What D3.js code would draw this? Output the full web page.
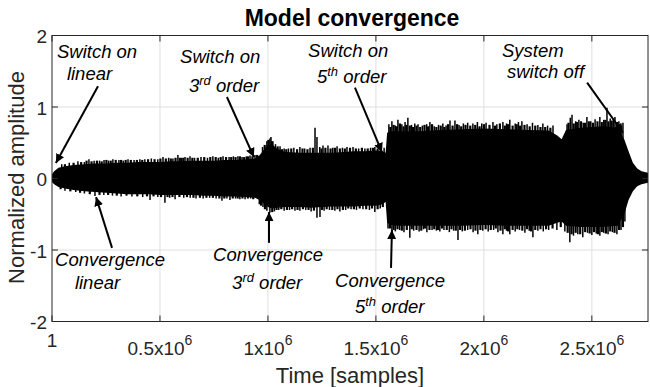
<!DOCTYPE html>
<html><head><meta charset="utf-8">
<script src="https://cdn.jsdelivr.net/npm/d3@7"></script>
<style>
html,body{margin:0;padding:0;background:#fff;}
svg{display:block;font-family:"Liberation Sans",Arial,sans-serif;}
</style></head>
<body><svg id="c" width="650" height="387"></svg>
<script>
// ---- data (samples, amplitude) ----
const xTicks = [1, 500000, 1000000, 1500000, 2000000, 2500000];
const xTickMant = ["1", "0.5x10", "1x10", "1.5x10", "2x10", "2.5x10"];
const xTickExp = ["", "6", "6", "6", "6", "6"];
const yTicks = [-2, -1, 0, 1, 2];

// base envelope of the waveform
const envSample = [0,10e3,30e3,60e3,100e3,150e3,200e3,250e3,300e3,350e3,400e3,450e3,500e3,550e3,600e3,650e3,700e3,750e3,800e3,850e3,900e3,940e3,960e3,980e3,1000e3,1020e3,1040e3,1080e3,1150e3,1200e3,1250e3,1300e3,1350e3,1400e3,1450e3,1500e3,1530e3,1545e3,1552e3,1570e3,1600e3,1700e3,1800e3,1900e3,2000e3,2100e3,2200e3,2300e3,2340e3,2360e3,2380e3,2450e3,2550e3,2620e3,2650e3,2670e3,2690e3,2710e3,2730e3,2760e3];
const envUpper = [0.06,0.10,0.15,0.17,0.19,0.20,0.21,0.21,0.22,0.22,0.23,0.23,0.23,0.24,0.24,0.25,0.25,0.25,0.26,0.26,0.27,0.28,0.32,0.40,0.47,0.48,0.42,0.37,0.36,0.36,0.36,0.36,0.37,0.38,0.38,0.39,0.38,0.36,0.64,0.66,0.66,0.66,0.68,0.69,0.70,0.69,0.68,0.67,0.60,0.55,0.68,0.71,0.73,0.71,0.55,0.38,0.22,0.14,0.10,0.08];
const envLower = [-0.05,-0.08,-0.12,-0.14,-0.16,-0.18,-0.19,-0.20,-0.21,-0.22,-0.22,-0.22,-0.23,-0.23,-0.23,-0.23,-0.24,-0.24,-0.25,-0.25,-0.26,-0.27,-0.30,-0.35,-0.40,-0.42,-0.41,-0.40,-0.40,-0.41,-0.40,-0.39,-0.39,-0.39,-0.38,-0.38,-0.36,-0.33,-0.62,-0.65,-0.66,-0.66,-0.66,-0.66,-0.65,-0.66,-0.66,-0.66,-0.62,-0.60,-0.66,-0.68,-0.68,-0.66,-0.50,-0.30,-0.18,-0.11,-0.08,-0.06];

// tall peaks sticking out of the envelope
const upSpikeSample = [45e3,80e3,120e3,150e3,171e3,195e3,220e3,241e3,262e3,282e3,310e3,330e3,352e3,380e3,407e3,430e3,460e3,490e3,514e3,540e3,560e3,583e3,600e3,616e3,639e3,660e3,690e3,720e3,745e3,770e3,792e3,820e3,840e3,861e3,880e3,900e3,917e3,940e3,
 975e3,995e3,1009e3,1014e3,1023e3,1035e3,1056e3,1075e3,1095e3,1120e3,1148e3,1170e3,1195e3,1218e3,1227e3,1240e3,1255e3,1278e3,1300e3,1320e3,1345e3,1366e3,1394e3,1420e3,1449e3,1475e3,1495e3,1520e3,1538e3,
 1560e3,1574e3,1590e3,1602e3,1620e3,1635e3,1648e3,1665e3,1680e3,1695e3,1715e3,1735e3,1750e3,1770e3,1790e3,1810e3,1825e3,1843e3,1866e3,1885e3,1905e3,1925e3,1949e3,1970e3,1990e3,2010e3,2042e3,2060e3,2088e3,2105e3,2120e3,2145e3,2160e3,2176e3,2200e3,2225e3,2250e3,2273e3,2295e3,2320e3,2385e3,2400e3,2408e3,2425e3,2440e3,2460e3,2477e3,2495e3,2515e3,2537e3,2555e3,2570e3,2585e3,2600e3,2607e3,2625e3,2644e3];
const upSpikeValue = [0.20,0.22,0.24,0.23,0.27,0.25,0.25,0.26,0.25,0.27,0.26,0.25,0.27,0.26,0.27,0.27,0.28,0.27,0.30,0.29,0.28,0.33,0.29,0.30,0.31,0.29,0.30,0.29,0.31,0.29,0.31,0.30,0.31,0.31,0.30,0.31,0.32,0.33,
 0.44,0.52,0.56,0.58,0.52,0.48,0.45,0.42,0.42,0.43,0.44,0.42,0.43,0.71,0.58,0.44,0.46,0.46,0.43,0.45,0.43,0.44,0.44,0.42,0.42,0.43,0.44,0.41,0.43,
 0.76,0.80,0.74,0.82,0.76,0.79,0.85,0.75,0.77,0.76,0.74,0.76,0.79,0.73,0.75,0.77,0.74,0.81,0.81,0.75,0.77,0.78,0.77,0.79,0.77,0.78,0.79,0.76,0.79,0.77,0.82,0.77,0.79,0.80,0.76,0.78,0.75,0.77,0.74,0.74,0.76,0.85,0.89,0.80,0.82,0.78,0.86,0.80,0.83,0.86,0.82,0.99,0.84,0.83,0.86,0.80,0.78];
const loSpikeSample = [60e3,110e3,150e3,199e3,240e3,280e3,320e3,370e3,420e3,454e3,490e3,523e3,545e3,570e3,610e3,640e3,667e3,700e3,730e3,760e3,787e3,810e3,824e3,850e3,870e3,894e3,920e3,
 960e3,977e3,995e3,1009e3,1030e3,1050e3,1075e3,1100e3,1125e3,1148e3,1175e3,1200e3,1227e3,1241e3,1260e3,1285e3,1310e3,1333e3,1360e3,1385e3,1410e3,1440e3,1470e3,1495e3,1520e3,
 1556e3,1574e3,1590e3,1610e3,1630e3,1657e3,1675e3,1700e3,1720e3,1736e3,1760e3,1780e3,1796e3,1815e3,1840e3,1860e3,1880e3,1900e3,1925e3,1950e3,1972e3,1995e3,2020e3,2045e3,2065e3,2088e3,2105e3,2120e3,2145e3,2165e3,2190e3,2210e3,2227e3,2250e3,2275e3,2300e3,2338e3,2375e3,2398e3,2415e3,2435e3,2458e3,2480e3,2500e3,2520e3,2537e3,2555e3,2575e3,2595e3,2616e3,2635e3,2653e3];
const loSpikeValue = [-0.17,-0.19,-0.21,-0.245,-0.23,-0.24,-0.25,-0.25,-0.26,-0.30,-0.26,-0.34,-0.27,-0.29,-0.27,-0.27,-0.28,-0.28,-0.27,-0.28,-0.31,-0.28,-0.30,-0.28,-0.29,-0.29,-0.28,
 -0.36,-0.40,-0.45,-0.48,-0.46,-0.44,-0.45,-0.44,-0.45,-0.45,-0.44,-0.46,-0.55,-0.54,-0.45,-0.44,-0.45,-0.46,-0.44,-0.43,-0.44,-0.43,-0.44,-0.47,-0.42,
 -0.70,-0.82,-0.74,-0.72,-0.75,-0.83,-0.73,-0.74,-0.71,-0.75,-0.72,-0.73,-0.74,-0.72,-0.75,-0.73,-0.86,-0.74,-0.72,-0.75,-0.78,-0.73,-0.74,-0.72,-0.75,-0.78,-0.73,-0.78,-0.74,-0.72,-0.76,-0.73,-0.82,-0.73,-0.74,-0.72,-0.72,-0.74,-0.89,-0.80,-0.78,-0.82,-0.76,-0.79,-0.77,-0.80,-0.76,-0.78,-0.75,-0.78,-0.72,-0.60];

// short ragged peaks ("grass") along the envelope edge
const upGrassSample = [60e3,100e3,135e3,160e3,183e3,208e3,230e3,252e3,272e3,295e3,320e3,341e3,365e3,393e3,418e3,445e3,475e3,502e3,527e3,550e3,572e3,592e3,608e3,628e3,650e3,675e3,705e3,733e3,758e3,781e3,806e3,830e3,850e3,870e3,890e3,908e3,928e3,950e3,
 985e3,1002e3,1018e3,1045e3,1065e3,1085e3,1108e3,1135e3,1160e3,1183e3,1208e3,1248e3,1266e3,1290e3,1310e3,1333e3,1356e3,1380e3,1407e3,1435e3,1462e3,1486e3,1508e3,
 1567e3,1582e3,1596e3,1611e3,1628e3,1641e3,1657e3,1672e3,1688e3,1705e3,1725e3,1742e3,1760e3,1780e3,1800e3,1817e3,1834e3,1855e3,1876e3,1895e3,1915e3,1937e3,1960e3,1980e3,2000e3,2026e3,2051e3,2074e3,2097e3,2112e3,2133e3,2152e3,2168e3,2188e3,2212e3,2238e3,2262e3,2284e3,2308e3,2392e3,2416e3,2432e3,2450e3,2468e3,2486e3,2505e3,2526e3,2546e3,2562e3,2577e3,2592e3,2616e3,2634e3];
const upGrassValue = [0.20,0.22,0.23,0.25,0.24,0.25,0.24,0.26,0.25,0.26,0.26,0.26,0.26,0.26,0.26,0.27,0.27,0.28,0.28,0.28,0.29,0.29,0.29,0.29,0.29,0.29,0.30,0.30,0.30,0.30,0.30,0.30,0.30,0.31,0.30,0.31,0.31,0.33,
 0.47,0.54,0.52,0.45,0.41,0.41,0.42,0.41,0.42,0.41,0.43,0.42,0.43,0.42,0.43,0.42,0.42,0.43,0.42,0.43,0.42,0.43,0.42,
 0.72,0.75,0.73,0.77,0.73,0.75,0.74,0.72,0.74,0.72,0.75,0.73,0.76,0.72,0.74,0.72,0.76,0.74,0.76,0.73,0.75,0.74,0.75,0.73,0.76,0.75,0.74,0.77,0.74,0.76,0.74,0.76,0.74,0.75,0.73,0.74,0.72,0.72,0.71,0.78,0.77,0.79,0.80,0.78,0.80,0.78,0.80,0.79,0.82,0.80,0.81,0.79,0.74];
const loGrassSample = [40e3,85e3,130e3,175e3,220e3,260e3,300e3,345e3,395e3,440e3,470e3,505e3,535e3,558e3,590e3,625e3,655e3,685e3,715e3,745e3,775e3,798e3,837e3,860e3,882e3,907e3,932e3,
 968e3,986e3,1020e3,1040e3,1062e3,1088e3,1112e3,1137e3,1162e3,1188e3,1213e3,1250e3,1272e3,1298e3,1322e3,1347e3,1372e3,1398e3,1425e3,1455e3,1482e3,1508e3,1532e3,
 1565e3,1582e3,1600e3,1620e3,1643e3,1666e3,1688e3,1710e3,1728e3,1748e3,1770e3,1788e3,1806e3,1828e3,1850e3,1870e3,1890e3,1912e3,1938e3,1961e3,1984e3,2008e3,2032e3,2055e3,2077e3,2097e3,2112e3,2133e3,2155e3,2178e3,2200e3,2218e3,2238e3,2262e3,2288e3,2318e3,2356e3,2388e3,2406e3,2425e3,2446e3,2469e3,2490e3,2510e3,2528e3,2546e3,2565e3,2585e3,2605e3,2626e3,2644e3];
const loGrassValue = [-0.15,-0.18,-0.20,-0.22,-0.23,-0.23,-0.24,-0.24,-0.25,-0.25,-0.25,-0.26,-0.26,-0.26,-0.26,-0.26,-0.27,-0.27,-0.27,-0.27,-0.28,-0.28,-0.28,-0.28,-0.28,-0.28,-0.29,
 -0.38,-0.43,-0.47,-0.44,-0.43,-0.44,-0.43,-0.44,-0.43,-0.44,-0.45,-0.44,-0.43,-0.44,-0.43,-0.44,-0.42,-0.43,-0.42,-0.43,-0.42,-0.43,-0.40,
 -0.70,-0.72,-0.71,-0.73,-0.72,-0.71,-0.72,-0.73,-0.70,-0.72,-0.71,-0.72,-0.70,-0.72,-0.71,-0.73,-0.72,-0.73,-0.71,-0.73,-0.72,-0.71,-0.72,-0.70,-0.73,-0.71,-0.74,-0.72,-0.71,-0.73,-0.71,-0.74,-0.72,-0.71,-0.71,-0.70,-0.68,-0.76,-0.78,-0.76,-0.78,-0.75,-0.77,-0.75,-0.78,-0.75,-0.77,-0.74,-0.76,-0.72,-0.68];

// annotations: text lines [sample, amplitude] for baseline-left, and arrows [from -> tip]
const noteLines = [
  {t:"Switch on", s:23e3, a:1.685},
  {t:"linear", s:69e3, a:1.378},
  {t:"Switch on", s:593e3, a:1.615},
  {t:"3", sup:"rd", rest:" order", s:634e3, a:1.21},
  {t:"Switch on", s:1186e3, a:1.70},
  {t:"5", sup:"th", rest:" order", s:1227e3, a:1.336},
  {t:"System", s:2084e3, a:1.70},
  {t:"switch off", s:2107e3, a:1.405},
  {t:"Convergence", s:14e3, a:-1.224},
  {t:"linear", s:106e3, a:-1.545},
  {t:"Convergence", s:746e3, a:-1.154},
  {t:"3", sup:"rd", rest:" order", s:834e3, a:-1.545},
  {t:"Convergence", s:1311e3, a:-1.517},
  {t:"5", sup:"th", rest:" order", s:1403e3, a:-1.88}
];
const arrows = [
  {s0:213e3, a0:1.29, s1:18e3, a1:0.217},
  {s0:810e3, a0:1.14, s1:935e3, a1:0.30},
  {s0:1403e3, a0:1.27, s1:1528e3, a1:0.37},
  {s0:2478e3, a0:1.34, s1:2644e3, a1:0.64},
  {s0:278e3, a0:-0.97, s1:204e3, a1:-0.26},
  {s0:1005e3, a0:-0.90, s1:1005e3, a1:-0.47},
  {s0:1570e3, a0:-1.25, s1:1574e3, a1:-0.72}
];

// ---- layout ----
const svg = d3.select("#c");
const L = 52, R = 648, T = 35.5, B = 321.5;
const x = d3.scaleLinear().domain([1, 2760000]).range([L, R]);
const y = d3.scaleLinear().domain([-2, 2]).range([B, T]);
const axisCol = "#262626";

// grid
const g = svg.append("g");
g.selectAll(".gx").data(xTicks.slice(1)).enter().append("line")
  .attr("x1", d => x(d)).attr("x2", d => x(d)).attr("y1", T).attr("y2", B)
  .attr("stroke", "#dfdfdf").attr("stroke-width", 1);
g.selectAll(".gy").data(yTicks.slice(1, -1)).enter().append("line")
  .attr("x1", L).attr("x2", R).attr("y1", d => y(d)).attr("y2", d => y(d))
  .attr("stroke", "#dfdfdf").attr("stroke-width", 1);

// waveform
const env = envSample.map((s, i) => ({s, u: envUpper[i], l: envLower[i]}));
svg.append("path").datum(env)
  .attr("d", d3.area().x(d => x(d.s)).y0(d => y(d.l)).y1(d => y(d.u)))
  .attr("fill", "#000");
const grass = upGrassSample.map((s, i) => ({s, v: upGrassValue[i]}))
  .concat(loGrassSample.map((s, i) => ({s, v: loGrassValue[i]})));
svg.append("g").selectAll("line").data(grass).enter().append("line")
  .attr("x1", d => x(d.s)).attr("x2", d => x(d.s))
  .attr("y1", y(0)).attr("y2", d => y(d.v))
  .attr("stroke", "#000").attr("stroke-width", 2.2);
const spikes = upSpikeSample.map((s, i) => ({s, v: upSpikeValue[i]}))
  .concat(loSpikeSample.map((s, i) => ({s, v: loSpikeValue[i]})));
svg.append("g").selectAll("line").data(spikes).enter().append("line")
  .attr("x1", d => x(d.s)).attr("x2", d => x(d.s))
  .attr("y1", y(0)).attr("y2", d => y(d.v))
  .attr("stroke", "#000").attr("stroke-width", 1.5);

// box + ticks
const ax = svg.append("g").attr("stroke", axisCol).attr("stroke-width", 1).attr("fill", "none");
ax.append("rect").attr("x", L).attr("y", T).attr("width", R - L).attr("height", B - T);
const tl = 6;
xTicks.forEach(t => {
  ax.append("line").attr("x1", x(t)).attr("x2", x(t)).attr("y1", B).attr("y2", B - tl);
  ax.append("line").attr("x1", x(t)).attr("x2", x(t)).attr("y1", T).attr("y2", T + tl);
});
yTicks.forEach(t => {
  ax.append("line").attr("x1", L).attr("x2", L + tl).attr("y1", y(t)).attr("y2", y(t));
  ax.append("line").attr("x1", R).attr("x2", R - tl).attr("y1", y(t)).attr("y2", y(t));
});

// y tick labels
svg.append("g").selectAll("text").data(yTicks).enter().append("text")
  .attr("x", L - 5).attr("y", d => y(d) + 7.5)
  .attr("text-anchor", "end").attr("font-size", 19).attr("fill", axisCol)
  .text(d => d);

// x tick labels
xTicks.forEach((t, i) => {
  const tx = svg.append("text").attr("font-size", 19).attr("fill", axisCol)
    .attr("text-anchor", "middle").attr("x", x(t))
    .attr("y", xTickExp[i] ? 355 : 347);
  tx.append("tspan").text(xTickMant[i]);
  if (xTickExp[i]) tx.append("tspan").attr("font-size", 14).attr("dy", -10).text(xTickExp[i]);
});

// axis titles
svg.append("text").attr("x", (L + R) / 2).attr("y", 383).attr("text-anchor", "middle")
  .attr("font-size", 22).attr("fill", axisCol).text("Time [samples]");
svg.append("text").attr("transform", `translate(24,${(T + B) / 2 - 1}) rotate(-90)`)
  .attr("text-anchor", "middle").attr("font-size", 22).attr("fill", axisCol)
  .text("Normalized amplitude");
svg.append("text").attr("x", 352).attr("y", 26).attr("text-anchor", "middle")
  .attr("font-size", 23).attr("font-weight", "bold").attr("fill", "#000")
  .text("Model convergence");

// annotations
const ann = svg.append("g").attr("font-size", 18.5).attr("font-style", "italic").attr("fill", "#000");
noteLines.forEach(n => {
  const t = ann.append("text").attr("x", x(n.s)).attr("y", y(n.a));
  t.append("tspan").text(n.t);
  if (n.sup) {
    t.append("tspan").attr("font-size", 13).attr("dy", -7).text(n.sup);
    t.append("tspan").attr("dy", 7).text(n.rest);
  }
});
svg.append("defs").append("marker").attr("id", "ah")
  .attr("viewBox", "0 0 10 10").attr("refX", 10).attr("refY", 5)
  .attr("markerWidth", 4.5).attr("markerHeight", 4.5).attr("orient", "auto")
  .attr("markerUnits", "strokeWidth")
  .append("path").attr("d", "M0,0L10,5L0,10z").attr("fill", "#000");
svg.append("g").selectAll("line").data(arrows).enter().append("line")
  .attr("x1", d => x(d.s0)).attr("y1", d => y(d.a0))
  .attr("x2", d => x(d.s1)).attr("y2", d => y(d.a1))
  .attr("stroke", "#000").attr("stroke-width", 2).attr("marker-end", "url(#ah)");
</script></body></html>
